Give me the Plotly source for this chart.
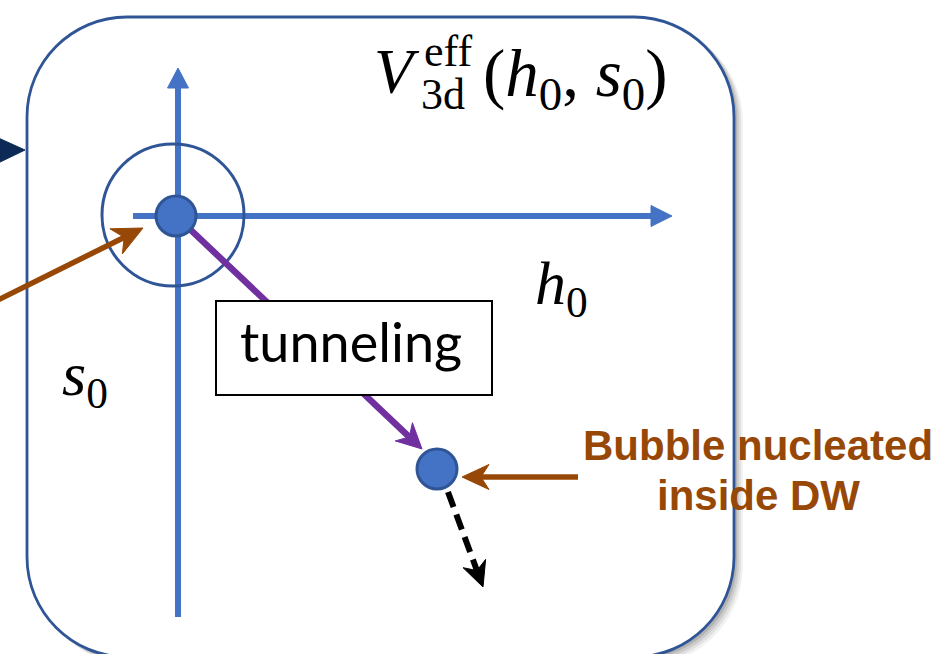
import math
import plotly.graph_objects as go

W, H = 939, 654

# ---- content -------------------------------------------------------------
potential_label = ["V", "eff", "3d", "(<i>h</i><sub>0</sub>, <i>s</i><sub>0</sub>)"]
field_labels = ["<i>h</i><sub>0</sub>", "<i>s</i><sub>0</sub>"]
path_label = "tunneling"
callout_lines = ["Bubble nucleated", "inside DW"]

# ---- colours -------------------------------------------------------------
BLUE = "#4472C4"
DARK_BLUE = "#2F5597"
PURPLE = "#7030A0"
BROWN = "#974806"
NAVY = "#0C2A55"

shapes = []
annotations = []


def rounded_rect_path(x0, y0, x1, y1, r):
    k = 0.5523 * r
    return (
        f"M{x0 + r},{y0} L{x1 - r},{y0} "
        f"C{x1 - r + k},{y0} {x1},{y0 + r - k} {x1},{y0 + r} "
        f"L{x1},{y1 - r} "
        f"C{x1},{y1 - r + k} {x1 - r + k},{y1} {x1 - r},{y1} "
        f"L{x0 + r},{y1} "
        f"C{x0 + r - k},{y1} {x0},{y1 - r + k} {x0},{y1 - r} "
        f"L{x0},{y0 + r} "
        f"C{x0},{y0 + r - k} {x0 + r - k},{y0} {x0 + r},{y0} Z"
    )


def arrow(start, tip, color, width, head_len, head_half, notch=0.0, dash=None):
    """Shaft as a line shape, head as a filled path (optionally notched)."""
    sx, sy = start
    tx, ty = tip
    dx, dy = tx - sx, ty - sy
    L = math.hypot(dx, dy)
    ux, uy = dx / L, dy / L
    nx, ny = -uy, ux
    bx, by = tx - head_len * ux, ty - head_len * uy
    mx, my = tx - head_len * (1 - notch) * ux, ty - head_len * (1 - notch) * uy
    ex, ey = mx + 2 * ux, my + 2 * uy
    line = dict(color=color, width=width)
    if dash:
        line["dash"] = dash
    shapes.append(dict(type="line", xref="x", yref="y", x0=sx, y0=sy, x1=ex, y1=ey, line=line))
    p = (
        f"M{tx},{ty} L{bx + head_half * nx},{by + head_half * ny} "
        f"L{mx},{my} L{bx - head_half * nx},{by - head_half * ny} Z"
    )
    shapes.append(dict(type="path", xref="x", yref="y", path=p, fillcolor=color,
                       line=dict(color=color, width=1)))


def circle(cx, cy, r, fill, edge, width):
    shapes.append(dict(type="circle", xref="x", yref="y", x0=cx - r, x1=cx + r,
                       y0=cy - r, y1=cy + r, fillcolor=fill, line=dict(color=edge, width=width)))


# ---- panel with soft shadow ------------------------------------------------
box = (27, 17, 734, 657, 100)
for off, op in [(9, 0.05), (7, 0.07), (5, 0.09), (3, 0.12)]:
    shapes.append(dict(type="path", xref="x", yref="y",
                       path=rounded_rect_path(box[0] + off, box[1] + off * 0.6,
                                              box[2] + off, box[3] + off, box[4]),
                       fillcolor=f"rgba(0,0,0,{op})", line=dict(width=0)))
shapes.append(dict(type="path", xref="x", yref="y", path=rounded_rect_path(*box),
                   fillcolor="white", line=dict(color=DARK_BLUE, width=2.8)))

# incoming navy pointer on the left edge
shapes.append(dict(type="path", xref="x", yref="y",
                   path="M-6,136 L25,150 L-6,165 Z", fillcolor=NAVY, line=dict(color=NAVY, width=1)))

# ---- field axes --------------------------------------------------------------
arrow((178, 617), (178, 68), BLUE, 6, 20, 10.5)
arrow((133, 216), (672, 216), BLUE, 6, 21, 10.5)

# vacuum neighbourhood
circle(173, 215, 71, "rgba(0,0,0,0)", DARK_BLUE, 3)

# tunneling path
false_vac = (176, 216)
bubble = (437, 469)
arrow(false_vac, (422, 449), PURPLE, 6.5, 25, 12.5, notch=0.3)
circle(*false_vac, 20, BLUE, DARK_BLUE, 3)

# label box on the path
shapes.append(dict(type="rect", xref="x", yref="y", x0=216, x1=492, y0=301, y1=395,
                   fillcolor="white", line=dict(color="black", width=2)))

# nucleated bubble and its subsequent roll
arrow((448, 492), (483, 587), "black", 6, 25, 12, notch=0.3, dash="16px,8px")
circle(*bubble, 20, BLUE, DARK_BLUE, 3)

# brown pointers
arrow((578, 477), (462, 477), BROWN, 5.5, 27, 12.5, notch=0.3)
arrow((-2, 300), (143, 228), BROWN, 5.5, 30, 14, notch=0.3)

# ---- text ----------------------------------------------------------------------
SERIF = "Liberation Serif"


def text(t, x, y, size, family, color="black", xanchor="left"):
    annotations.append(dict(text=t, x=x, y=y, xref="x", yref="y", showarrow=False,
                            xanchor=xanchor, yanchor="middle",
                            font=dict(size=size, family=family, color=color)))


text(f"<i>{potential_label[0]}</i>", 372, 71, 64, SERIF)
text(potential_label[1], 422, 51, 44, SERIF)
text(potential_label[2], 419, 94, 44, SERIF)
text(potential_label[3], 481, 78, 67, SERIF)

text(field_labels[0], 533, 287, 62, SERIF)
text(field_labels[1], 60, 378, 62, SERIF)

text(path_label, 351, 341, 54, "Lato", xanchor="center")

text(f"<b>{callout_lines[0]}</b>", 758, 445, 42, "Liberation Sans", BROWN, "center")
text(f"<b>{callout_lines[1]}</b>", 758, 495, 42, "Liberation Sans", BROWN, "center")

fig = go.Figure()
fig.update_layout(
    width=W, height=H,
    margin=dict(l=0, r=0, t=0, b=0, pad=0, autoexpand=False),
    paper_bgcolor="white", plot_bgcolor="white",
    xaxis=dict(range=[0, W], visible=False, fixedrange=True),
    yaxis=dict(range=[H, 0], visible=False, fixedrange=True),
    shapes=shapes, annotations=annotations, showlegend=False,
)
fig.write_html("out.html")
